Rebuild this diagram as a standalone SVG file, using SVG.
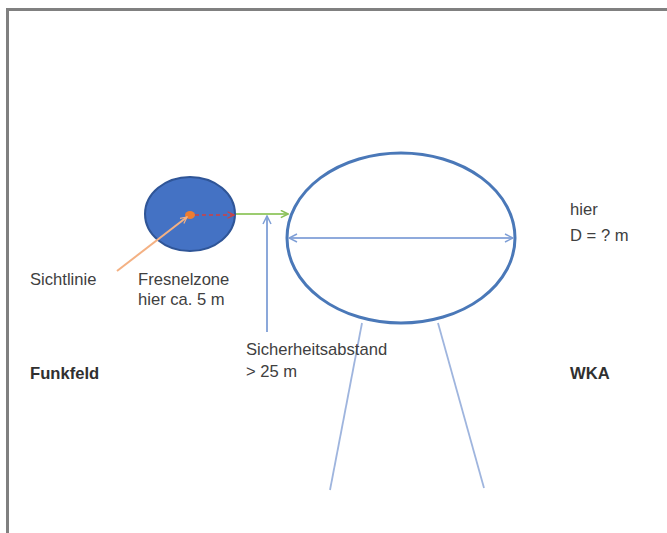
<svg xmlns="http://www.w3.org/2000/svg" width="667" height="533" viewBox="0 0 667 533">
<style>
.t{font-family:"Liberation Sans",Arial,sans-serif;font-size:16.6px;fill:#404040}
.b{font-weight:bold;fill:#303030}
</style>
<defs>
<marker id="ab" viewBox="0 0 10 10" refX="9" refY="5" markerWidth="10" markerHeight="10" orient="auto-start-reverse" markerUnits="userSpaceOnUse"><path d="M1,1 L9,5 L1,9" fill="none" stroke="#7f9fd6" stroke-width="1.5"/></marker>
<marker id="ag" viewBox="0 0 10 10" refX="9" refY="5" markerWidth="9" markerHeight="9" orient="auto" markerUnits="userSpaceOnUse"><path d="M1,1 L9,5 L1,9" fill="none" stroke="#8cc05a" stroke-width="1.8"/></marker>
<marker id="ar" viewBox="0 0 10 10" refX="9" refY="5" markerWidth="8" markerHeight="8" orient="auto" markerUnits="userSpaceOnUse"><path d="M1,1 L9,5 L1,9" fill="none" stroke="#d04040" stroke-width="1.5"/></marker>
<marker id="ao" viewBox="0 0 10 10" refX="9" refY="5" markerWidth="8" markerHeight="8" orient="auto" markerUnits="userSpaceOnUse"><path d="M1,1 L9,5 L1,9" fill="none" stroke="#f4b183" stroke-width="1.5"/></marker>
</defs>
<rect width="667" height="533" fill="#fff"/>
<path d="M7.5,533 V9.5 H667" fill="none" stroke="#808080" stroke-width="3"/>
<g id="funkfeld">
<ellipse cx="190" cy="214" rx="45" ry="37" fill="#4472c4" stroke="#2f5597" stroke-width="2"/>
<ellipse cx="190" cy="215" rx="5" ry="4" fill="#ed7d31"/>
</g>
<g id="wka">
<ellipse cx="401" cy="238" rx="114" ry="85" fill="none" stroke="#4a78b8" stroke-width="3"/>
<line x1="362" y1="323" x2="330" y2="490" stroke="#9fb5de" stroke-width="1.8"/>
<line x1="438" y1="323" x2="484" y2="488" stroke="#9fb5de" stroke-width="1.8"/>
</g>
<g id="connectors">
<line x1="289" y1="238" x2="513" y2="238" stroke="#8faadc" stroke-width="2" marker-start="url(#ab)" marker-end="url(#ab)"/>
<line x1="195" y1="215" x2="234" y2="215" stroke="#d04040" stroke-width="1.5" stroke-dasharray="4,3" marker-end="url(#ar)"/>
<line x1="236" y1="214" x2="288" y2="214" stroke="#9ccc70" stroke-width="2" marker-end="url(#ag)"/>
<line x1="267" y1="332" x2="267" y2="216" stroke="#7f9fd6" stroke-width="1.8" marker-end="url(#ab)"/>
<line x1="117" y1="271" x2="187" y2="217" stroke="#f4b183" stroke-width="2" marker-end="url(#ao)"/>
</g>
<g id="labels">
<text class="t" x="30" y="285">Sichtlinie</text>
<text class="t" x="138" y="285">Fresnelzone</text>
<text class="t" x="138" y="305">hier ca. 5 m</text>
<text class="t" x="246" y="355">Sicherheitsabstand</text>
<text class="t" x="246" y="377">&gt; 25 m</text>
<text class="t b" x="30" y="379">Funkfeld</text>
<text class="t" x="570" y="215">hier</text>
<text class="t" x="570" y="241">D = ? m</text>
<text class="t b" x="570" y="379">WKA</text>
</g>
</svg>
